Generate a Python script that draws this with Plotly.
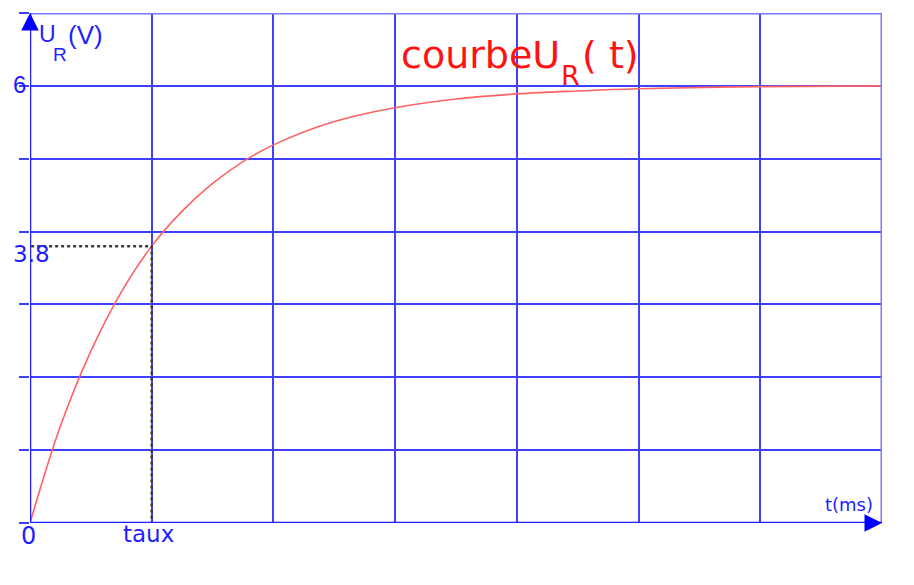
import plotly.graph_objects as go

# Data (t in units of tau, U_R in volts)
t_vals = [0, 0.25, 0.5, 0.75, 1.0, 1.25, 1.5, 1.75, 2.0, 2.5, 3.0, 3.5, 4.0, 4.5, 5.0, 6.0, 7.0]
u_vals = [0, 1.33, 2.36, 3.17, 3.80, 4.28, 4.66, 4.96, 5.19, 5.51, 5.70, 5.82, 5.89, 5.93, 5.96, 5.99, 6.0]
tau = 1.0
u_tau = 3.8
u_max = 6
x_max = 7
y_max = 7

BLUE = "#1e1eff"
GRID = "#4040ff"
LS = "Liberation Sans"
DV = "DejaVu Sans"

fig = go.Figure()
fig.add_trace(go.Scatter(x=t_vals, y=u_vals, mode="lines", line=dict(color="#ff6262", width=1.6, shape="spline"),
                         hoverinfo="skip"))
fig.add_trace(go.Scatter(x=[-0.04, tau, tau], y=[u_tau, u_tau, 0], mode="lines",
                         line=dict(color="#3a3a3a", width=2.5, dash="dot"), hoverinfo="skip"))

fig.update_xaxes(range=[0, x_max], dtick=1, showgrid=True, gridcolor=GRID, gridwidth=1.5,
                 zeroline=False, showticklabels=False, showline=False, ticks="")
fig.update_yaxes(range=[0, y_max], dtick=1, showgrid=True, gridcolor=GRID, gridwidth=1.5,
                 zeroline=False, showticklabels=False, showline=False, ticks="outside",
                 ticklen=10, tickwidth=1.5, tickcolor=GRID)

# border (top/right) and axes (left/bottom)
fig.add_shape(type="line", xref="x", yref="y", x0=-0.08, x1=x_max, y0=y_max, y1=y_max, line=dict(color="#7a7aff", width=3))
fig.add_shape(type="line", xref="x", yref="y", x0=x_max, x1=x_max, y0=0, y1=y_max, line=dict(color="#7a7aff", width=3))
fig.add_shape(type="line", xref="x", yref="y", x0=0, x1=0, y0=0, y1=y_max, line=dict(color=BLUE, width=2.5))
fig.add_shape(type="line", xref="x", yref="y", x0=-0.08, x1=x_max, y0=0, y1=0, line=dict(color=BLUE, width=2.5))

# arrowheads at the axis ends
fig.add_annotation(x=0, y=y_max, ax=0, ay=18, xref="x", yref="y", showarrow=True, arrowhead=2,
                   arrowsize=1.4, arrowwidth=2.5, arrowcolor="#0000ff", text="")
fig.add_annotation(x=x_max, y=0, ax=-18, ay=0, xref="x", yref="y", showarrow=True, arrowhead=2,
                   arrowsize=1.4, arrowwidth=2.5, arrowcolor="#0000ff", text="")

def txt(x, y, s, size, color=BLUE, family=LS, xanchor="center", yanchor="middle", xs=0, ys=0):
    fig.add_annotation(x=x, y=y, xref="x", yref="y", text=s, showarrow=False, xanchor=xanchor,
                       yanchor=yanchor, xshift=xs, yshift=ys, font=dict(family=family, size=size, color=color))

# axis labels
txt(0, u_max, "6", 24, xanchor="right", xs=-2, ys=1)
txt(0, u_tau, "3.8", 23, family=DV, xs=1, ys=-8)
txt(0, 0, "0", 24, family=DV, xs=-2, ys=-13)
txt(tau, 0, "taux", 23, family=DV, xs=-3, ys=-11)
txt(x_max, 0, "t(ms)", 18, family=DV, xanchor="right", xs=-7, ys=19)
txt(0, y_max, "U", 23, xanchor="left", xs=7, ys=-21)
txt(0, y_max, "R", 19, xanchor="left", xs=21, ys=-41)
txt(0, y_max, "(V)", 26, xanchor="left", xs=36, ys=-22)

# curve title
RED = "#ff1212"
txt(3, u_max, "courbeU", 38, color=RED, family=DV, xanchor="left", xs=4, ys=31)
txt(3, u_max, "R", 27, color=RED, family=DV, xanchor="left", xs=164, ys=10)
txt(3, u_max, "( t)", 38, color=RED, family=DV, xanchor="left", xs=185, ys=31)

fig.update_layout(width=914, height=585, margin=dict(l=22, r=40, t=5, b=70),
                  paper_bgcolor="white", plot_bgcolor="white", showlegend=False)

fig.write_html("out.html")
